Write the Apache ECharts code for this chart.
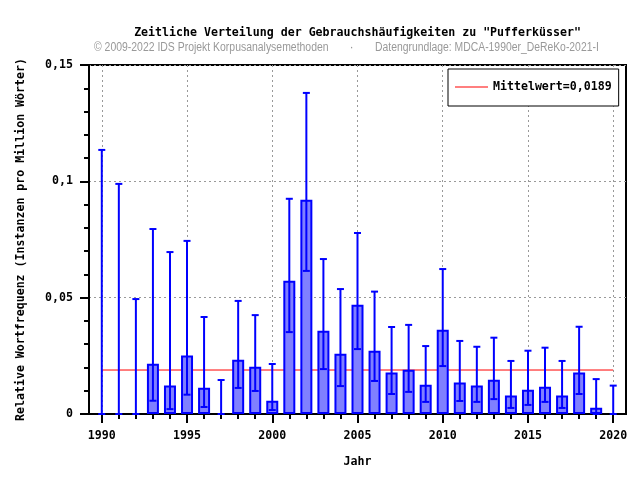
<!DOCTYPE html>
<html><head><meta charset="utf-8">
<script src="https://cdn.jsdelivr.net/npm/echarts@6/dist/echarts.min.js"></script>
<style>html,body{margin:0;padding:0;background:#fff}#c{width:640px;height:480px}</style>
</head><body><div id="c"></div>
<script>
const years = [1990,1991,1992,1993,1994,1995,1996,1997,1998,1999,2000,2001,2002,2003,2004,2005,2006,2007,2008,2009,2010,2011,2012,2013,2014,2015,2016,2017,2018,2019,2020];
const freq = [0,0,0,0.0216,0.0122,0.0251,0.0113,0,0.0233,0.0203,0.0057,0.0573,0.0921,0.0358,0.0259,0.047,0.0272,0.0178,0.019,0.0126,0.0362,0.0135,0.0122,0.0147,0.0079,0.0104,0.0117,0.0079,0.0178,0.0027,0];
const lower = [0,0,0,0.0057,0.0021,0.0083,0.003,0,0.0112,0.0099,0.0017,0.0352,0.0615,0.0193,0.012,0.0279,0.0142,0.0086,0.0095,0.0052,0.0206,0.0056,0.0052,0.0064,0.0026,0.0039,0.0052,0.0026,0.0086,0,0];
const upper = [0.1135,0.0989,0.0494,0.0795,0.0696,0.0744,0.0417,0.0146,0.0486,0.0425,0.0215,0.0925,0.138,0.0666,0.0537,0.0778,0.0526,0.0374,0.0383,0.0292,0.0623,0.0314,0.0289,0.0328,0.0228,0.0272,0.0285,0.0228,0.0375,0.015,0.0122];
const meanValue = 0.0189;
const meanLabel = 'Mittelwert=0,0189';
const xMajorTicks = [1990,1995,2000,2005,2010,2015,2020];
const titleText = 'Zeitliche Verteilung der Gebrauchshäufigkeiten zu "Pufferküsser"';
const subLeft = '© 2009-2022 IDS Projekt Korpusanalysemethoden';
const subDot = '·';
const subRight = 'Datengrundlage: MDCA-1990er_DeReKo-2021-I';
const xName = 'Jahr';
const yName = 'Relative Wortfrequenz (Instanzen pro Million Wörter)';

const MONO = '"DejaVu Sans Mono", monospace';
const SUBFONT = '12.5px "Liberation Sans", Arial, sans-serif';
const monoText = {fontFamily: MONO, fontWeight: 'bold', fontSize: 11.6, color: '#000'};
const chart = echarts.init(document.getElementById('c'), null, {renderer: 'canvas'});

const barData = years.map((y, i) => ({
  value: [y, freq[i]],
  itemStyle: freq[i] === 0 ? {borderWidth: 0, opacity: 0} : undefined
}));
const errData = years.map((y, i) => [y, lower[i], upper[i]]);

chart.setOption({
  animation: false,
  backgroundColor: '#fff',
  grid: {left: 89, right: 14, top: 65, bottom: 66, show: true, borderColor: '#000', borderWidth: 2, backgroundColor: 'transparent'},
  graphic: [
    {type: 'text', style: {text: titleText, x: 357.5, y: 33, align: 'center', verticalAlign: 'middle', font: 'bold 11.6px ' + MONO, fill: '#000'}},
    {type: 'text', x: 94, y: 47.5, scaleX: 0.835, style: {text: subLeft, x: 0, y: 0, align: 'left', verticalAlign: 'middle', font: SUBFONT, fill: '#999'}},
    {type: 'text', x: 351.5, y: 47.5, style: {text: subDot, x: 0, y: 0, align: 'center', verticalAlign: 'middle', font: SUBFONT, fill: '#999'}},
    {type: 'text', x: 375, y: 47.5, scaleX: 0.83, style: {text: subRight, x: 0, y: 0, align: 'left', verticalAlign: 'middle', font: SUBFONT, fill: '#999'}}
  ],
  legend: {
    left: 448, top: 69, orient: 'horizontal',
    padding: [12, 7, 13, 7],
    borderColor: '#000', borderWidth: 1, borderRadius: 0,
    backgroundColor: '#fff',
    itemWidth: 33, itemHeight: 1,
    data: [{name: meanLabel, icon: 'rect'}],
    textStyle: monoText,
    selectedMode: false
  },
  xAxis: [
    {
      type: 'value', min: 1989.25, max: 2020.75, position: 'bottom',
      name: xName, nameLocation: 'middle', nameGap: 42, nameTextStyle: monoText,
      axisLine: {show: true, onZero: false, lineStyle: {color: '#000', width: 2}},
      axisTick: {show: true, customValues: xMajorTicks, length: 9, lineStyle: {color: '#000', width: 2}},
      axisLabel: {show: true, customValues: xMajorTicks, margin: 16, ...monoText, formatter: v => String(v)},
      splitLine: {show: true, lineStyle: {color: '#999', type: [2, 3], width: 1}},
      minorTick: {show: false}
    },
    {
      type: 'value', min: 1989.25, max: 2020.75, position: 'bottom',
      axisLine: {show: false},
      axisTick: {show: true, customValues: years, length: 5, lineStyle: {color: '#000', width: 2}},
      axisLabel: {show: false},
      splitLine: {show: false}
    }
  ],
  yAxis: {
    type: 'value', min: 0, max: 0.15, interval: 0.05,
    name: yName, nameLocation: 'middle', nameGap: 62, nameRotate: 90, nameTextStyle: monoText,
    axisLine: {show: true, lineStyle: {color: '#000', width: 2}},
    axisTick: {show: true, length: 9, lineStyle: {color: '#000', width: 2}},
    minorTick: {show: true, splitNumber: 5, length: 5, lineStyle: {color: '#000', width: 2}},
    axisLabel: {margin: 16, ...monoText, formatter: v => String(Number(v.toFixed(4))).replace('.', ',')},
    splitLine: {show: true, lineStyle: {color: '#999', type: [2, 3], width: 1}}
  },
  series: [
    {
      name: meanLabel, type: 'line', xAxisIndex: 0, symbol: 'none', z: 1,
      data: [[years[0], meanValue], [years[years.length - 1], meanValue]],
      lineStyle: {color: '#ff0000', width: 1}, itemStyle: {color: '#ff0000'}
    },
    {
      name: 'Frequenz', type: 'bar', xAxisIndex: 0, barWidth: 12, z: 2,
      data: barData,
      itemStyle: {color: '#8080ff', borderColor: '#0000ff', borderWidth: 2}
    },
    {
      name: 'Konfidenz', type: 'custom', xAxisIndex: 0, z: 3,
      data: errData,
      encode: {x: 0, y: [1, 2]},
      renderItem: function (params, api) {
        const x = api.value(0), lo = api.value(1), hi = api.value(2);
        const a = api.coord([x, lo]), b = api.coord([x, hi]);
        const cw = 3.5;
        const st = {stroke: '#0000ff', lineWidth: 2};
        return {type: 'group', children: [
          {type: 'line', shape: {x1: a[0], y1: a[1], x2: b[0], y2: b[1]}, style: st},
          {type: 'line', shape: {x1: b[0] - cw, y1: b[1], x2: b[0] + cw, y2: b[1]}, style: st},
          {type: 'line', shape: {x1: a[0] - cw, y1: a[1], x2: a[0] + cw, y2: a[1]}, style: st}
        ]};
      }
    }
  ]
});
</script></body></html>
